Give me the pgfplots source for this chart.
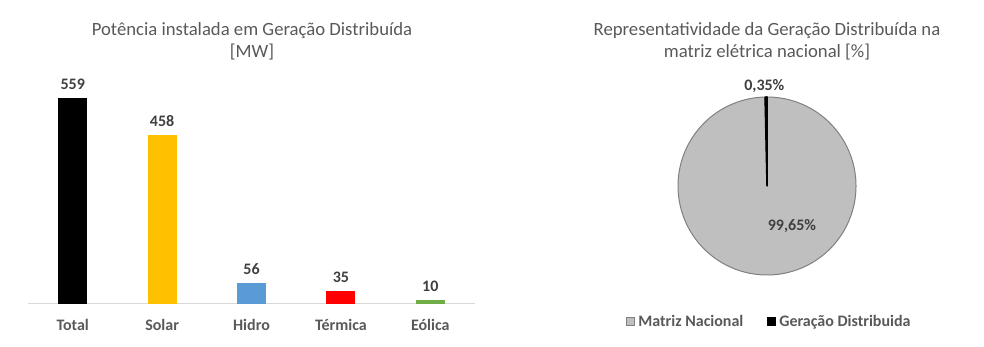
\documentclass[border=0pt]{standalone}
\usepackage{pgfplots}
\pgfplotsset{compat=1.18}
\usepackage{fontspec}
\setmainfont{Carlito}
\definecolor{titlegray}{HTML}{595959}
\definecolor{lblgray}{HTML}{404040}
\definecolor{axgray}{HTML}{D9D9D9}
\definecolor{solar}{HTML}{FFC000}
\definecolor{hidro}{HTML}{5B9BD5}
\definecolor{termica}{HTML}{FF0000}
\definecolor{eolica}{HTML}{70AD47}
\definecolor{piegray}{HTML}{BFBFBF}
\definecolor{pieedge}{HTML}{808080}
\begin{document}
\begin{tikzpicture}[x=1pt,y=1pt]
\useasboundingbox (0,0) rectangle (984,347);
\coordinate (barSW) at (28,43);
\coordinate (pieSW) at (678,72);
\node[align=center, text=titlegray, font=\fontsize{18.7}{22}\selectfont] at (252,306) {Potência instalada em Geração Distribuída\\{}[MW]};
\node[align=center, text=titlegray, font=\fontsize{18.7}{22}\selectfont] at (767,306) {Representatividade da Geração Distribuída na\\matriz elétrica nacional [\%]};
\begin{axis}[
  at={(barSW)}, anchor=south west, scale only axis,
  width=447pt, height=221.2pt,
  xmin=-0.5, xmax=4.5, ymin=0, ymax=600,
  axis y line=none, axis x line*=bottom,
  axis line style={draw=axgray, line width=1pt},
  xtick={0,1,2,3,4},
  xticklabels={Total,Solar,Hidro,Térmica,Eólica},
  major tick length=0pt,
  xticklabel style={font=\fontsize{16}{18}\selectfont\bfseries, text=titlegray, yshift=-12pt},
  ybar, bar width=29pt, bar shift=0pt,
  /pgf/number format/assume math mode=true,
  nodes near coords,
  nodes near coords style={font=\fontsize{16}{18}\selectfont\bfseries, text=lblgray, yshift=5pt},
  clip=false,
]
\addplot[fill=black, draw=none] coordinates {(0,559)};
\addplot[fill=solar, draw=none] coordinates {(1,458)};
\addplot[fill=hidro, draw=none] coordinates {(2,56)};
\addplot[fill=termica, draw=none] coordinates {(3,35)};
\addplot[fill=eolica, draw=none] coordinates {(4,10)};
\end{axis}
\pgfmathsetmacro{\angA}{90-3.6*99.65}
\pgfmathsetmacro{\angB}{90+3.6*0.35}
\begin{axis}[
  at={(pieSW)}, anchor=south west, scale only axis,
  width=178pt, height=178pt,
  xmin=-1, xmax=1, ymin=-1, ymax=1,
  hide axis, clip=false,
  legend style={at={(0.514,-0.264)}, anchor=center, legend columns=2, draw=none,
    font=\fontsize{16}{18}\selectfont\bfseries, text=titlegray,
    /tikz/every odd column/.append style={column sep=1pt},
    /tikz/every even column/.append style={column sep=22pt}},
  legend image code/.code={\draw[#1, line width=1pt] (0pt,-3.5pt) rectangle (8pt,4.5pt);},
]
\addplot[fill=piegray, draw=pieedge, line width=1pt, domain=\angA:90, samples=240] ({cos(x)},{sin(x)}) -- (axis cs:0,0) -- cycle;
\addlegendentry{Matriz Nacional}
\addplot[fill=black, draw=black, line width=1.5pt, line join=round, domain=90:\angB, samples=5] ({cos(x)},{sin(x)}) -- (axis cs:0,0) -- cycle;
\addlegendentry{Geração Distribuida}
\node[font=\fontsize{16}{18}\selectfont\bfseries, text=lblgray] at (axis cs:0.28,-0.45) {99,65\%};
\node[font=\fontsize{16}{18}\selectfont\bfseries, text=lblgray] at (axis cs:-0.03,1.12) {0,35\%};
\end{axis}
\end{tikzpicture}
\end{document}
